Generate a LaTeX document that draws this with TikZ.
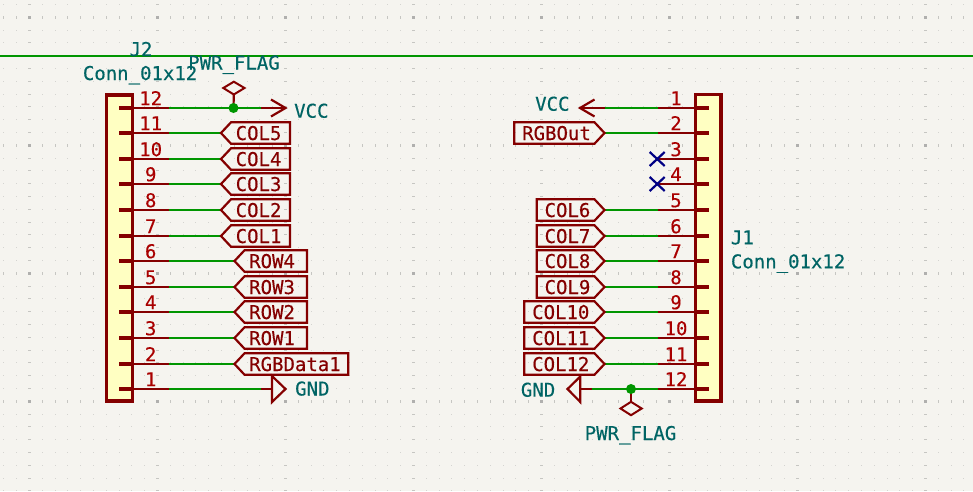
\documentclass[tikz,border=0pt]{standalone}
\usepackage{fontspec}
\setmainfont[FakeBold=0.35]{DejaVu Sans Mono}
\definecolor{bgc}{HTML}{F5F4EF}
\definecolor{symc}{HTML}{840000}
\definecolor{numc}{HTML}{A90000}
\definecolor{wirec}{HTML}{009600}
\definecolor{valc}{HTML}{006464}
\definecolor{bodyc}{HTML}{FFFFC2}
\definecolor{ncc}{HTML}{000084}
\definecolor{gridmin}{HTML}{D4D4D0}
\definecolor{griddash}{HTML}{C6C6C2}
\definecolor{gridmaj}{HTML}{B0B0AE}
\tikzset{
  sym/.style={draw=symc,line width=2.2pt,line join=miter},
  wire/.style={draw=wirec,line width=2.2pt},
  body/.style={draw=symc,line width=3.4pt,fill=bodyc},
  junct/.style={fill=wirec,draw=none},
  pintxt/.style={inner sep=0pt,anchor=base,text=numc,font=\fontsize{19}{19}\selectfont},
  lbltxt/.style={inner sep=0pt,anchor=base west,text=symc,font=\fontsize{19}{19}\selectfont},
  valtxt/.style={inner sep=0pt,anchor=base west,text=valc,font=\fontsize{19}{19}\selectfont},
  ncmark/.style={draw=ncc,line width=2.2pt},
}
\newcommand{\hollowstub}[3]{\draw[symc,line width=1.5pt,fill=bodyc] (#1,#3-2) rectangle (#2,#3+2);}
\newcommand{\solidstub}[3]{\fill[symc] (#1,#3-2.4) rectangle (#2,#3+2.4);}
\begin{document}
\begin{tikzpicture}[x=1pt,y=-1pt]
\useasboundingbox (0,0) rectangle (973,491);
\fill[bgc] (0,0) rectangle (973,491);
% grid
\foreach \i in {0,...,75}{
  \foreach \j in {0,...,38}{
    \pgfmathsetmacro{\gx}{3.9+12.8*\i}
    \pgfmathsetmacro{\gy}{4.5+12.8*\j}
    \pgfmathtruncatemacro{\mi}{mod(\i+8,10)==0 ? 1 : 0}
    \pgfmathtruncatemacro{\mj}{mod(\j+9,10)==0 ? 1 : 0}
    \pgfmathsetmacro{\hx}{\mi==1 ? 1.5 : 0.5}
    \pgfmathsetmacro{\hy}{\mj==1 ? 1.5 : 0.5}
    \pgfmathtruncatemacro{\kind}{\mi+\mj}
    \ifnum\kind=0 \def\gc{gridmin}\fi
    \ifnum\kind=1 \def\gc{griddash}\fi
    \ifnum\kind=2 \def\gc{gridmaj}\fi
    \fill[\gc] (\gx-\hx,\gy-\hy) rectangle (\gx+\hx,\gy+\hy);
  }
}
% sheet line
\coordinate (sheetL) at (0,56);
\coordinate (sheetR) at (973,56);
\draw[wire] (sheetL) -- (sheetR);

% J2 connector
\draw[body] (106.7,95) rectangle (132.5,401);
\foreach \n/\k/\st in {12/0/h,11/1/s,10/2/h,9/3/h,8/4/s,7/5/h,6/6/h,5/7/s,4/8/h,3/9/s,2/10/h,1/11/h}{
  \pgfmathsetmacro{\yy}{round(107.6+25.6*\k)}
  \coordinate (j2a\n) at (132.5,\yy);
  \coordinate (j2b\n) at (169,\yy);
  \ifx\st h\hollowstub{119.3}{133}{\yy}\else\solidstub{118.5}{133}{\yy}\fi
  \draw[sym] (j2a\n) -- (j2b\n);
  \node[pintxt] (j2num\n) at (150.7,\yy-2.8) {\n};
}
% J2 wires and labels
\foreach \n/\t/\tip/\rgt in {11/COL5/221/290,10/COL4/221/290,9/COL3/221/290,8/COL2/221/290,7/COL1/221/290,6/ROW4/234.5/307,5/ROW3/234.5/307,4/ROW2/234.5/307,3/ROW1/234.5/307,2/RGBData1/234.5/348.3}{
  \pgfmathsetmacro{\yy}{round(107.6+25.6*(12-\n))}
  \coordinate (j2t\n) at (\tip,\yy);
  \draw[wire] (j2b\n) -- (j2t\n);
  \draw[sym] (j2t\n) -- (\tip+10,\yy-10.7) -- (\rgt,\yy-10.7) -- (\rgt,\yy+10.7) -- (\tip+10,\yy+10.7) -- cycle;
  \node[lbltxt] (j2lbl\n) at (\tip+14.5,\yy+7) {\t};
}
% J2 VCC
\coordinate (j2vw) at (261,108);
\coordinate (j2vt) at (285.5,108);
\coordinate (j2j) at (233.5,108);
\draw[wire] (j2b12) -- (j2vw);
\draw[sym] (j2vw) -- (j2vt);
\draw[sym] (271,99.5) -- (j2vt) -- (271,116.5);
\coordinate (j2fs) at (233.8,94.5);
\draw[sym] (j2j) -- (j2fs);
\draw[sym,line width=2pt] (j2fs) -- (223.3,88) -- (233.8,81.7) -- (244.5,88) -- cycle;
\fill[junct] (j2j) circle (5);
\node[valtxt] (j2vcc) at (294,117.7) {VCC};
\node[valtxt,anchor=base] (j2flag) at (234,69.5) {PWR\_FLAG};
\node[valtxt,anchor=base] (j2ref) at (141,56) {J2};
\node[valtxt] (j2val) at (82.7,80) {Conn\_01x12};
% J2 GND
\coordinate (j2gw) at (261,389);
\coordinate (j2gb) at (272,389);
\draw[wire] (j2b1) -- (j2gw);
\draw[sym] (j2gw) -- (j2gb);
\draw[sym] (272,376) -- (285.5,389) -- (272,402) -- cycle;
\node[valtxt] (j2gnd) at (295,395.5) {GND};

% J1 connector
\draw[body] (695.7,94.5) rectangle (720.8,401);
\foreach \n/\st in {1/h,2/s,3/h,4/h,5/s,6/h,7/h,8/s,9/h,10/s,11/h,12/h}{
  \pgfmathsetmacro{\yy}{round(107.6+25.6*(\n-1))}
  \coordinate (j1a\n) at (695.7,\yy);
  \coordinate (j1b\n) at (657.7,\yy);
  \ifx\st h\hollowstub{695.5}{708}{\yy}\else\solidstub{695.5}{708.8}{\yy}\fi
  \draw[sym] (j1a\n) -- (j1b\n);
  \node[pintxt] (j1num\n) at (676,\yy-2.8) {\n};
}
% J1 wires and labels
\foreach \n/\t/\lft in {2/RGBOut/514.3,5/COL6/536.7,6/COL7/536.7,7/COL8/536.7,8/COL9/536.7,9/COL10/524.3,10/COL11/524.3,11/COL12/524.3}{
  \pgfmathsetmacro{\yy}{round(107.6+25.6*(\n-1))}
  \coordinate (j1t\n) at (604.5,\yy);
  \draw[wire] (j1b\n) -- (j1t\n);
  \draw[sym] (j1t\n) -- (594.5,\yy-10.7) -- (\lft,\yy-10.7) -- (\lft,\yy+10.7) -- (594.5,\yy+10.7) -- cycle;
  \node[lbltxt] (j1lbl\n) at (\lft+7.7,\yy+7) {\t};
}
% J1 VCC
\coordinate (j1vw) at (604.5,108);
\coordinate (j1vt) at (580,108);
\draw[wire] (j1b1) -- (j1vw);
\draw[sym] (j1vw) -- (j1vt);
\draw[sym] (594.5,99.5) -- (j1vt) -- (594.5,116.5);
\node[valtxt] (j1vcc) at (535,110.7) {VCC};
% J1 no connects
\foreach \n in {3,4}{
  \draw[ncmark] (j1b\n) ++(-8,-7) -- ++(15,14);
  \draw[ncmark] (j1b\n) ++(-8,7) -- ++(15,-14);
}
% J1 GND
\coordinate (j1gw) at (591.7,389);
\coordinate (j1gb) at (580.3,389);
\coordinate (j1j) at (631,389);
\draw[wire] (j1b12) -- (j1gw);
\draw[sym] (j1gw) -- (j1gb);
\draw[sym] (580.3,376.5) -- (567.5,389) -- (580.3,402) -- cycle;
\coordinate (j1fs) at (631,401.8);
\draw[sym] (j1j) -- (j1fs);
\draw[sym,line width=2pt] (j1fs) -- (620.5,408.5) -- (631,415.2) -- (641.7,408.5) -- cycle;
\fill[junct] (j1j) circle (5);
\node[valtxt] (j1gnd) at (520.7,396.7) {GND};
\node[valtxt,anchor=base] (j1flag) at (630.5,440) {PWR\_FLAG};
\node[valtxt] (j1ref) at (730.7,244.3) {J1};
\node[valtxt] (j1val) at (730.7,268.3) {Conn\_01x12};
\end{tikzpicture}
\end{document}
